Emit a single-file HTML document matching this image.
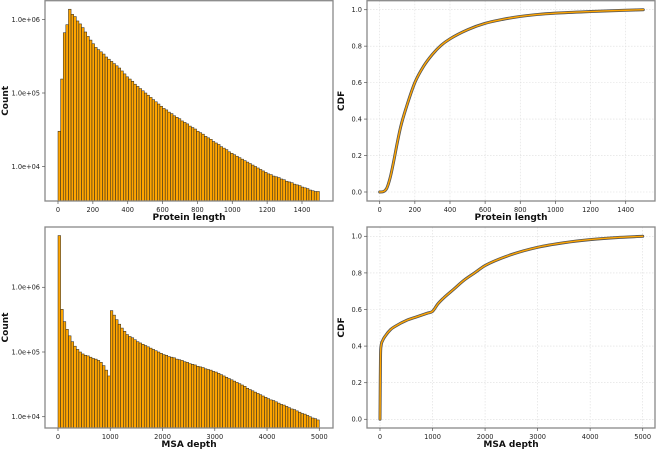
<!DOCTYPE html>
<html><head><meta charset="utf-8"><style>
body{margin:0;background:#fff}
svg{display:block;font-family:"DejaVu Sans","Liberation Sans",sans-serif}
.tk{font-size:6.6px;fill:#222}
.ti{font-size:9px;font-weight:bold;fill:#111}
</style></head><body>
<svg id="fig" width="656" height="450" viewBox="0 0 656 450" xmlns="http://www.w3.org/2000/svg"></svg>
<script>
// Panel A: protein length histogram (bin width 15, log10 counts)
const lenBinWidth = 15;
const lenLog10Counts = [4.48,5.19,5.82,5.93,6.14,6.07,6.04,5.98,5.94,5.89,5.83,5.77,5.72,5.67,5.62,5.59,5.56,5.53,5.49,5.46,5.43,5.40,5.37,5.34,5.30,5.26,5.22,5.19,5.16,5.12,5.09,5.06,5.03,5.00,4.97,4.94,4.91,4.88,4.85,4.82,4.79,4.77,4.74,4.72,4.69,4.67,4.65,4.62,4.60,4.58,4.55,4.53,4.51,4.48,4.46,4.44,4.41,4.39,4.37,4.34,4.32,4.30,4.27,4.25,4.23,4.20,4.18,4.16,4.14,4.12,4.10,4.08,4.06,4.04,4.02,4.00,3.98,3.96,3.94,3.92,3.90,3.89,3.87,3.86,3.85,3.83,3.82,3.80,3.79,3.78,3.76,3.75,3.74,3.72,3.71,3.70,3.68,3.67,3.66,3.66];
// Panel C: MSA depth histogram (bin width 50, log10 counts)
const msaBinWidth = 50;
const msaLog10Counts = [6.80,5.66,5.47,5.35,5.25,5.16,5.09,5.04,5.00,4.97,4.95,4.94,4.92,4.90,4.89,4.87,4.84,4.79,4.72,4.63,5.64,5.57,5.50,5.43,5.37,5.32,5.27,5.24,5.22,5.19,5.16,5.14,5.12,5.10,5.08,5.06,5.04,5.02,5.00,4.98,4.96,4.95,4.93,4.92,4.91,4.89,4.88,4.87,4.85,4.84,4.82,4.81,4.80,4.78,4.77,4.76,4.74,4.73,4.72,4.70,4.69,4.67,4.65,4.63,4.61,4.59,4.57,4.55,4.53,4.51,4.49,4.47,4.44,4.42,4.40,4.38,4.36,4.34,4.32,4.30,4.28,4.26,4.25,4.23,4.21,4.19,4.18,4.16,4.14,4.12,4.11,4.09,4.07,4.05,4.04,4.02,4.00,3.98,3.97,3.95];
// Panel B: protein length CDF
const lenCdfX = [0,20,40,60,80,100,120,150,200,250,300,350,400,500,600,700,800,900,1000,1200,1400,1500];
const lenCdfY = [0,0.002,0.02,0.08,0.17,0.27,0.36,0.46,0.60,0.69,0.755,0.805,0.84,0.89,0.925,0.947,0.963,0.974,0.981,0.99,0.997,1.0];
// Panel D: MSA depth CDF
const msaCdfX = [0,5,10,20,50,100,200,300,500,700,900,1000,1100,1200,1400,1600,1800,2000,2500,3000,3500,4000,4500,5000];
const msaCdfY = [0,0.2,0.35,0.40,0.43,0.455,0.49,0.51,0.54,0.56,0.58,0.59,0.63,0.66,0.71,0.76,0.80,0.84,0.90,0.94,0.965,0.982,0.993,1.0];
const logTicks = [4,5,6];
const logTickLabels = ["1.0e+04","1.0e+05","1.0e+06"];
const cdfTicks = [0,0.2,0.4,0.6,0.8,1.0];
const lenTicks = [0,200,400,600,800,1000,1200,1400];
const msaTicks = [0,1000,2000,3000,4000,5000];

const NS="http://www.w3.org/2000/svg";
const svg=document.getElementById('fig');
function mk(tag,attrs,parent){const e=document.createElementNS(NS,tag);for(const k in attrs)e.setAttribute(k,attrs[k]);(parent||svg).appendChild(e);return e;}
function lin(d0,d1,r0,r1){return v=>r0+(v-d0)*(r1-r0)/(d1-d0);}

function panel(p){
  const g=mk('g',{});
  
  
  if(p.grid){
    p.xt.forEach(t=>{const l=mk('line',{x1:p.sx(t),x2:p.sx(t),y1:p.top,y2:p.bot,stroke:'#ddd','stroke-width':0.6,'stroke-dasharray':'1.5,1.5'},g);
      });
    p.yt.forEach(t=>{const l=mk('line',{x1:p.left,x2:p.right,y1:p.sy(t),y2:p.sy(t),stroke:'#ddd','stroke-width':0.6,'stroke-dasharray':'1.5,1.5'},g);
      });
  }
  p.draw(g);
  const box=mk('rect',{x:p.left,y:p.top,width:p.right-p.left,height:p.bot-p.top,fill:'none',stroke:'#888','stroke-width':1.3},g);
  
  p.xt.forEach(t=>{
    const x=p.sx(t);
    mk('line',{x1:x,x2:x,y1:p.bot,y2:p.bot+3,stroke:'#555','stroke-width':0.7},g);
    const tx=mk('text',{x:x,y:p.bot+11,'text-anchor':'middle',class:'tk'},g);tx.textContent=String(t);
    
  });
  p.yt.forEach((t,i)=>{
    const y=p.sy(t);
    mk('line',{x1:p.left-3,x2:p.left,y1:y,y2:y,stroke:'#555','stroke-width':0.7},g);
    const tx=mk('text',{x:p.left-5,y:y+2.4,'text-anchor':'end',class:'tk'},g);tx.textContent=p.yl[i];
    
  });
  const xt=mk('text',{x:(p.left+p.right)/2,y:p.xty,'text-anchor':'middle',class:'ti'},g);xt.textContent=p.xtitle;
  
  const yt=mk('text',{x:0,y:0,'text-anchor':'middle',class:'ti',transform:`translate(${p.ytx},${(p.top+p.bot)/2}) rotate(-90)`},g);yt.textContent=p.ytitle;
  
}

function bars(g,sx,sy,bw,vals,bot){
  vals.forEach((v,i)=>{
    const x0=sx(i*bw),x1=sx((i+1)*bw),y=sy(v);
    const r=mk('rect',{x:x0,y:y,width:x1-x0,height:bot-y,fill:'#ffa500',stroke:'#222','stroke-width':0.5},g);
    
    
  });
}
function smoothPath(pts){
  // monotone cubic (Fritsch-Carlson) in pixel space
  const n=pts.length,d=[],m=[];
  for(let i=0;i<n-1;i++)d.push((pts[i+1][1]-pts[i][1])/(pts[i+1][0]-pts[i][0]||1e-6));
  m[0]=d[0];m[n-1]=d[n-2];
  for(let i=1;i<n-1;i++)m[i]=(d[i-1]*d[i]<=0)?0:(d[i-1]+d[i])/2;
  for(let i=0;i<n-1;i++){if(d[i]===0){m[i]=m[i+1]=0;continue;}const a=m[i]/d[i],b=m[i+1]/d[i],s=a*a+b*b;if(s>9){const t=3/Math.sqrt(s);m[i]=t*a*d[i];m[i+1]=t*b*d[i];}}
  let s='M'+pts[0][0].toFixed(2)+','+pts[0][1].toFixed(2);
  for(let i=0;i<n-1;i++){const h=(pts[i+1][0]-pts[i][0])/3;
    s+='C'+(pts[i][0]+h).toFixed(2)+','+(pts[i][1]+m[i]*h).toFixed(2)+' '+(pts[i+1][0]-h).toFixed(2)+','+(pts[i+1][1]-m[i+1]*h).toFixed(2)+' '+pts[i+1][0].toFixed(2)+','+pts[i+1][1].toFixed(2);}
  return s;
}
function curve(g,sx,sy,xs,ys){
  const d=smoothPath(xs.map((x,i)=>[sx(x),sy(ys[i])]));
  const a=mk('path',{d:d,fill:'none',stroke:'#555','stroke-width':3,'stroke-linejoin':'round','stroke-linecap':'round'},g);
  
  const b=mk('path',{d:d,fill:'none',stroke:'#ffa500','stroke-width':1.4,'stroke-linejoin':'round','stroke-linecap':'round'},g);
  
}

{const sx=lin(0,1400,58,302),sy=lin(5,6,93,19.5);
panel({name:'protein-length-histogram',left:45,right:333,top:0.7,bot:201,sx,sy,xt:lenTicks,yt:logTicks,yl:logTickLabels,
 xtitle:'Protein length',ytitle:'Count',xty:220,ytx:8,draw:g=>bars(g,sx,sy,lenBinWidth,lenLog10Counts,201)});}
{const sx=lin(0,1400,379.7,625.7),sy=lin(0,1,192,9.7);
panel({name:'protein-length-cdf',left:367,right:655,top:0.7,bot:201,sx,sy,grid:true,xt:lenTicks,yt:cdfTicks,yl:cdfTicks.map(t=>t.toFixed(1)),
 xtitle:'Protein length',ytitle:'CDF',xty:220,ytx:344,draw:g=>curve(g,sx,sy,lenCdfX,lenCdfY)});}
{const sx=lin(0,5000,58,319.3),sy=lin(5,6,352,287.3);
panel({name:'msa-depth-histogram',left:45,right:333,top:227,bot:428,sx,sy,xt:msaTicks,yt:logTicks,yl:logTickLabels,
 xtitle:'MSA depth',ytitle:'Count',xty:447,ytx:8,draw:g=>bars(g,sx,sy,msaBinWidth,msaLog10Counts,428)});}
{const sx=lin(0,5000,380,642.7),sy=lin(0,1,419.3,236.3);
panel({name:'msa-depth-cdf',left:367,right:655,top:227,bot:428,sx,sy,grid:true,xt:msaTicks,yt:cdfTicks,yl:cdfTicks.map(t=>t.toFixed(1)),
 xtitle:'MSA depth',ytitle:'CDF',xty:447,ytx:344,draw:g=>curve(g,sx,sy,msaCdfX,msaCdfY)});}
</script>
</body></html>
